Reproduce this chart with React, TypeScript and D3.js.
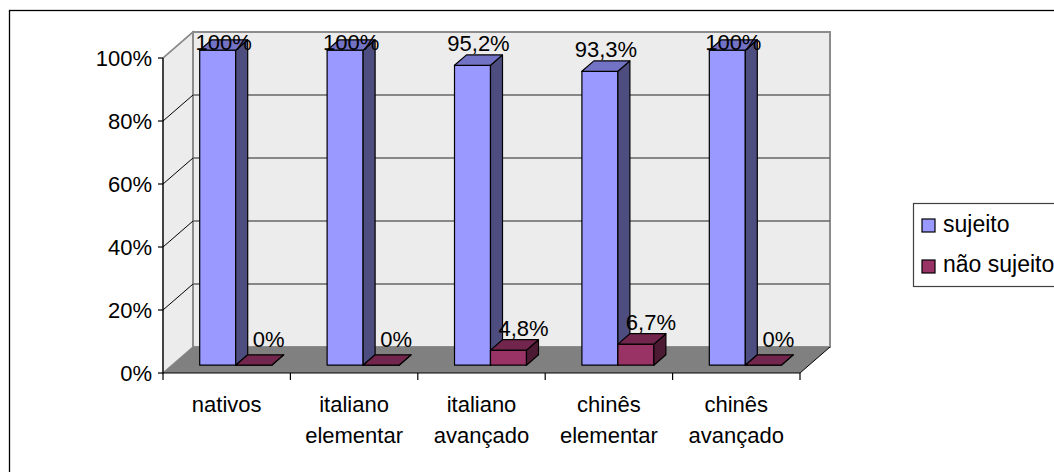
import React from "react";
import * as d3 from "d3";

// Categories, series and values (percent)
const categories: string[][] = [
  ["nativos"],
  ["italiano", "elementar"],
  ["italiano", "avançado"],
  ["chinês", "elementar"],
  ["chinês", "avançado"],
];
const seriesNames = ["sujeito", "não sujeito"];
const sujeito = [100, 100, 95.2, 93.3, 100];
const naoSujeito = [0, 0, 4.8, 6.7, 0];
const valueLabels = [
  ["100%", "100%", "95,2%", "93,3%", "100%"],
  ["0%", "0%", "4,8%", "6,7%", "0%"],
];
const yTicks = [0, 20, 40, 60, 80, 100];
const yTickLabels = ["0%", "20%", "40%", "60%", "80%", "100%"];

const seriesColors = [
  { front: "#9999ff", top: "#7373c6", side: "#4d4d80", swatch: "#9999ff" },
  { front: "#993366", top: "#73264d", side: "#4d1a33", swatch: "#993366" },
];

const W = 1054;
const H = 472;
const FONT = "'Liberation Sans', Arial, Helvetica, sans-serif";

// Front plane of the plot, and the depth offset of the back wall
const plotLeft = 163;
const plotRight = 800;
const plotTop = 58;
const plotBottom = 373;
const depthX = 30;
const depthY = -26;
const barFront = 0.3;
const barBack = 0.7;

export default function App() {
  const keys = categories.map((c) => c.join(" "));
  const x0 = d3.scaleBand<string>().domain(keys).range([plotLeft, plotRight]).padding(0);
  const x1 = d3
    .scaleBand<string>()
    .domain(seriesNames)
    .range([0, x0.bandwidth()])
    .paddingInner(0)
    .paddingOuter(0.77);
  const y = d3.scaleLinear().domain([0, 100]).range([plotBottom, plotTop]);

  // project a point on the front plane into the given depth (0 = front, 1 = back wall)
  const P = (px: number, py: number, d: number): [number, number] => [px + depthX * d, py + depthY * d];
  const poly = (pts: [number, number][]) => pts.map((p) => p.join(",")).join(" ");

  const data = [sujeito, naoSujeito];

  const back: [number, number][] = [
    P(plotLeft, plotTop, 1),
    P(plotRight, plotTop, 1),
    P(plotRight, plotBottom, 1),
    P(plotLeft, plotBottom, 1),
  ];
  const side: [number, number][] = [
    P(plotLeft, plotTop, 0),
    P(plotLeft, plotTop, 1),
    P(plotLeft, plotBottom, 1),
    P(plotLeft, plotBottom, 0),
  ];
  const floor: [number, number][] = [
    P(plotLeft, plotBottom, 0),
    P(plotLeft, plotBottom, 1),
    P(plotRight, plotBottom, 1),
    P(plotRight, plotBottom, 0),
  ];

  const bars: React.ReactNode[] = [];
  const labels: React.ReactNode[] = [];
  keys.forEach((k, ci) => {
    seriesNames.forEach((s, si) => {
      const v = data[si][ci];
      const xa = (x0(k) as number) + (x1(s) as number);
      const xb = xa + x1.bandwidth();
      const yv = y(v);
      const yb = y(0);
      const c = seriesColors[si];
      const ft = P(xa, yv, barFront);
      bars.push(
        <g key={`b-${ci}-${si}`} stroke="#000" strokeWidth={1.2} strokeLinejoin="round">
          <polygon
            points={poly([P(xa, yv, barFront), P(xb, yv, barFront), P(xb, yb, barFront), P(xa, yb, barFront)])}
            fill={c.front}
          />
          <polygon
            points={poly([P(xb, yv, barFront), P(xb, yb, barFront), P(xb, yb, barBack), P(xb, yv, barBack)])}
            fill={c.side}
          />
          <polygon
            points={poly([P(xa, yv, barFront), P(xb, yv, barFront), P(xb, yv, barBack), P(xa, yv, barBack)])}
            fill={c.top}
          />
        </g>
      );
      const cx = (xa + xb) / 2 + depthX * ((barFront + barBack) / 2) + (si === 1 ? 9 : 0);
      const lift = v === 0 ? 18 : 14;
      const by = Math.max(ft[1] - lift, 50);
      labels.push(
        <text key={`l-${ci}-${si}`} x={cx} y={by} textAnchor="middle" fontSize={22} fontFamily={FONT} fill="#000">
          {valueLabels[si][ci]}
        </text>
      );
    });
  });

  const xTickPos = [plotLeft, ...keys.map((k) => (x0(k) as number) + x0.bandwidth())];

  return (
    <svg width={W} height={H} style={{ position: "absolute", left: 0, top: 0, background: "#fff" }}>
      <rect x={0} y={0} width={W} height={H} fill="#fff" />
      <rect x={9.5} y={10.5} width={1100} height={520} fill="#fff" stroke="#000" strokeWidth={1.3} />

      {/* walls and floor */}
      <polygon points={poly(side)} fill="#ececec" stroke="#8c8c8c" strokeWidth={1.5} />
      <polygon points={poly(back)} fill="#ececec" stroke="#8c8c8c" strokeWidth={2} />
      <polygon points={poly(floor)} fill="#808080" stroke="none" />
      <line
        x1={P(plotRight, plotBottom, 0)[0]}
        y1={P(plotRight, plotBottom, 0)[1]}
        x2={P(plotRight, plotBottom, 1)[0]}
        y2={P(plotRight, plotBottom, 1)[1]}
        stroke="#000"
        strokeWidth={1}
      />

      {/* gridlines: diagonals on the side wall, horizontals on the back wall */}
      {yTicks.slice(1, -1).map((t) => {
        const a = P(plotLeft, y(t), 0);
        const b = P(plotLeft, y(t), 1);
        const c = P(plotRight, y(t), 1);
        return (
          <g key={`g-${t}`}>
            <line x1={a[0]} y1={a[1]} x2={b[0]} y2={b[1]} stroke="#000" strokeWidth={1} />
            <line x1={b[0]} y1={b[1]} x2={c[0]} y2={c[1]} stroke="#666" strokeWidth={1.5} />
          </g>
        );
      })}
      <line
        x1={P(plotLeft, plotTop, 0)[0]}
        y1={P(plotLeft, plotTop, 0)[1]}
        x2={P(plotLeft, plotTop, 1)[0]}
        y2={P(plotLeft, plotTop, 1)[1]}
        stroke="#8c8c8c"
        strokeWidth={1.5}
      />

      {/* value axis */}
      <line x1={plotLeft} y1={plotTop} x2={plotLeft} y2={plotBottom} stroke="#000" strokeWidth={1.2} />
      {yTicks.map((t, i) => (
        <g key={`yt-${t}`}>
          <line x1={plotLeft - 5} y1={y(t)} x2={plotLeft} y2={y(t)} stroke="#000" strokeWidth={1.2} />
          <text x={152} y={y(t) + 8} textAnchor="end" fontSize={22} fontFamily={FONT} fill="#000">
            {yTickLabels[i]}
          </text>
        </g>
      ))}

      {/* category axis */}
      <line x1={plotLeft} y1={plotBottom} x2={plotRight} y2={plotBottom} stroke="#000" strokeWidth={1.2} />
      {xTickPos.map((xp, i) => (
        <line key={`xt-${i}`} x1={xp} y1={plotBottom} x2={xp} y2={plotBottom + 7} stroke="#000" strokeWidth={1.2} />
      ))}
      {categories.map((lines, ci) => (
        <text
          key={`xl-${ci}`}
          x={(x0(keys[ci]) as number) + x0.bandwidth() / 2}
          y={412}
          textAnchor="middle"
          fontSize={22}
          fontFamily={FONT}
          fill="#000"
        >
          {lines.map((ln, li) => (
            <tspan key={li} x={(x0(keys[ci]) as number) + x0.bandwidth() / 2} dy={li === 0 ? 0 : 31}>
              {ln}
            </tspan>
          ))}
        </text>
      ))}

      {bars}
      {labels}

      {/* legend */}
      <rect x={913.5} y={203.5} width={200} height={83} fill="#fff" stroke="#404040" strokeWidth={1.2} />
      {seriesNames.map((s, i) => (
        <g key={`lg-${s}`}>
          <rect x={922} y={219 + i * 41} width={13} height={13} fill={seriesColors[i].swatch} stroke="#000" strokeWidth={1.2} />
          <text x={943} y={232 + i * 40} fontSize={23} fontFamily={FONT} fill="#000">
            {s}
          </text>
        </g>
      ))}
    </svg>
  );
}
